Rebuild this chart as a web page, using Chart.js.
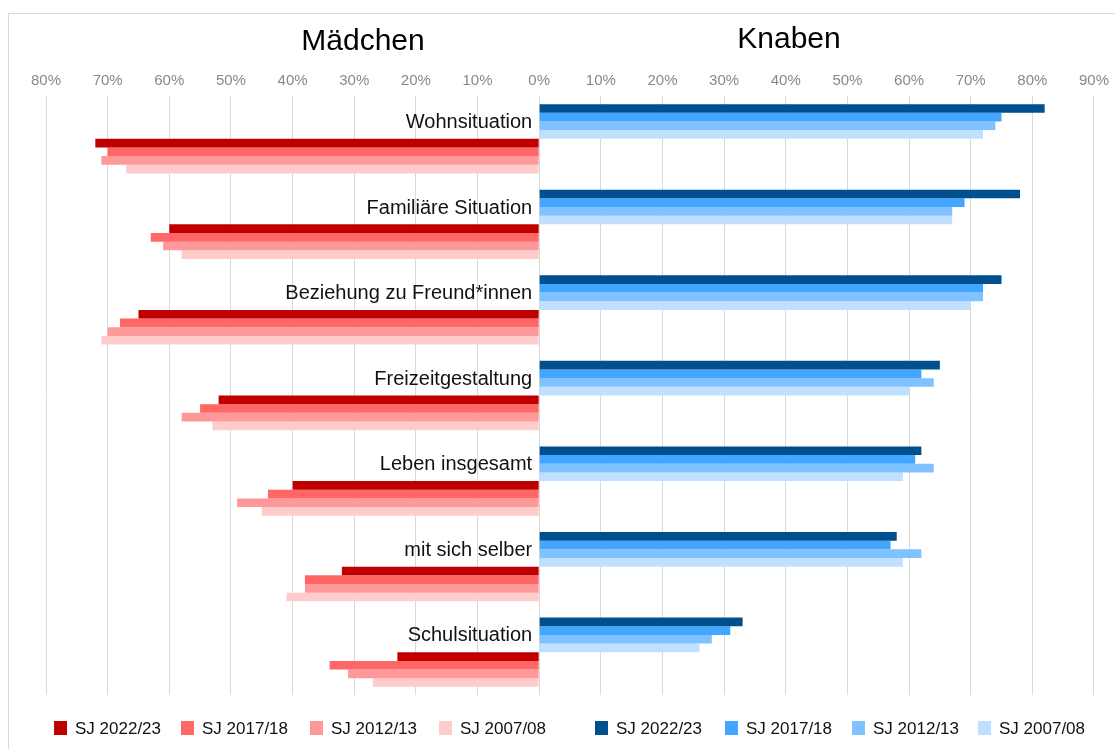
<!DOCTYPE html>
<html>
<head>
<meta charset="utf-8">
<script src="https://cdn.jsdelivr.net/npm/chart.js@4/dist/chart.umd.min.js"></script>
<style>
  html, body { margin: 0; padding: 0; background: #fff; }
  #wrap { width: 1115px; height: 749px; position: relative; }
</style>
</head>
<body>
<div id="wrap"><canvas id="chart" width="1115" height="749"></canvas></div>
<script>
// Kategorien (von oben nach unten)
const categories = ['Wohnsituation', 'Familiäre Situation', 'Beziehung zu Freund*innen',
    'Freizeitgestaltung', 'Leben insgesamt', 'mit sich selber', 'Schulsituation'];

const years = ['SJ 2022/23', 'SJ 2017/18', 'SJ 2012/13', 'SJ 2007/08'];

// Knaben (Prozent)
const boys2022 = [82, 78, 75, 65, 62, 58, 33];
const boys2017 = [75, 69, 72, 62, 61, 57, 31];
const boys2012 = [74, 67, 72, 64, 64, 62, 28];
const boys2007 = [72, 67, 70, 60, 59, 59, 26];

// Mädchen (Prozent)
const girls2022 = [72, 60, 65, 52, 40, 32, 23];
const girls2017 = [70, 63, 68, 55, 44, 38, 34];
const girls2012 = [71, 61, 70, 58, 49, 38, 31];
const girls2007 = [67, 58, 71, 53, 45, 41, 27];

const blueColors = ['#00508f', '#42a5ff', '#80c1ff', '#c0e0ff'];
const redColors = ['#c00000', '#ff6666', '#ff9999', '#ffcccc'];

const FONT = '"Liberation Sans", Arial, sans-serif';

const boysSeries = [boys2022, boys2017, boys2012, boys2007];
const girlsSeries = [girls2022, girls2017, girls2012, girls2007];

const datasets = [];
boysSeries.forEach((s, i) => datasets.push({
    label: years[i], group: 'Knaben', data: s,
    backgroundColor: blueColors[i], categoryPercentage: 0.81, barPercentage: 1
}));
girlsSeries.forEach((s, i) => datasets.push({
    label: years[i], group: 'Mädchen', data: s.map(v => -v),
    backgroundColor: redColors[i], categoryPercentage: 0.81, barPercentage: 1
}));

// Rahmen, Titel, Kategorienamen und Legende
const decorations = {
    id: 'decorations',
    beforeDraw(chart) {
        const ctx = chart.ctx;
        ctx.save();
        ctx.strokeStyle = '#d9d9d9';
        ctx.lineWidth = 1;
        ctx.strokeRect(8.5, 13.5, 1300, 900);
        ctx.restore();
    },
    afterDraw(chart) {
        const ctx = chart.ctx;
        const x = chart.scales.x;
        const y = chart.scales.y;
        ctx.save();

        // Titel
        ctx.fillStyle = '#000';
        ctx.font = '30px ' + FONT;
        ctx.textAlign = 'center';
        ctx.textBaseline = 'middle';
        ctx.fillText('Mädchen', 363, 42);
        ctx.fillText('Knaben', 789, 40);

        // Kategorienamen links der Nulllinie, auf Höhe der blauen Balken
        ctx.font = '20px ' + FONT;
        ctx.textAlign = 'right';
        ctx.fillStyle = '#111';
        const zero = x.getPixelForValue(0);
        const band = (y.bottom - y.top) / categories.length;
        categories.forEach((c, i) => {
            const cy = y.getPixelForValue(i) - band * 0.81 / 4;
            ctx.fillText(c, zero - 7, cy + 1);
        });

        // Legende
        ctx.font = '17px ' + FONT;
        ctx.textAlign = 'left';
        const ly = 728;
        const redX = [54, 181, 310, 439];
        const blueX = [595, 725, 852, 978];
        chart.data.datasets.forEach((ds, i) => {
            const bx = ds.group === 'Mädchen' ? redX[i - 4] : blueX[i];
            ctx.fillStyle = ds.backgroundColor;
            ctx.fillRect(bx, ly - 7, 13, 14);
            ctx.fillStyle = '#111';
            ctx.fillText(ds.label, bx + 21, ly + 1);
        });
        ctx.restore();
    }
};

new Chart(document.getElementById('chart'), {
    type: 'bar',
    data: { labels: categories, datasets: datasets },
    options: {
        indexAxis: 'y',
        responsive: false,
        animation: false,
        layout: { padding: { top: 66, left: 46, right: 20, bottom: 54 } },
        plugins: { legend: { display: false }, tooltip: { enabled: false } },
        scales: {
            x: {
                position: 'top',
                min: -80, max: 90,
                ticks: {
                    stepSize: 10,
                    color: '#888',
                    font: { family: FONT, size: 15 },
                    padding: 6,
                    callback: v => Math.abs(v) + '%'
                },
                grid: { color: '#d9d9d9', drawTicks: false },
                border: { display: false }
            },
            y: {
                display: false,
                grid: { display: false }
            }
        }
    },
    plugins: [decorations]
});
</script>
</body>
</html>
